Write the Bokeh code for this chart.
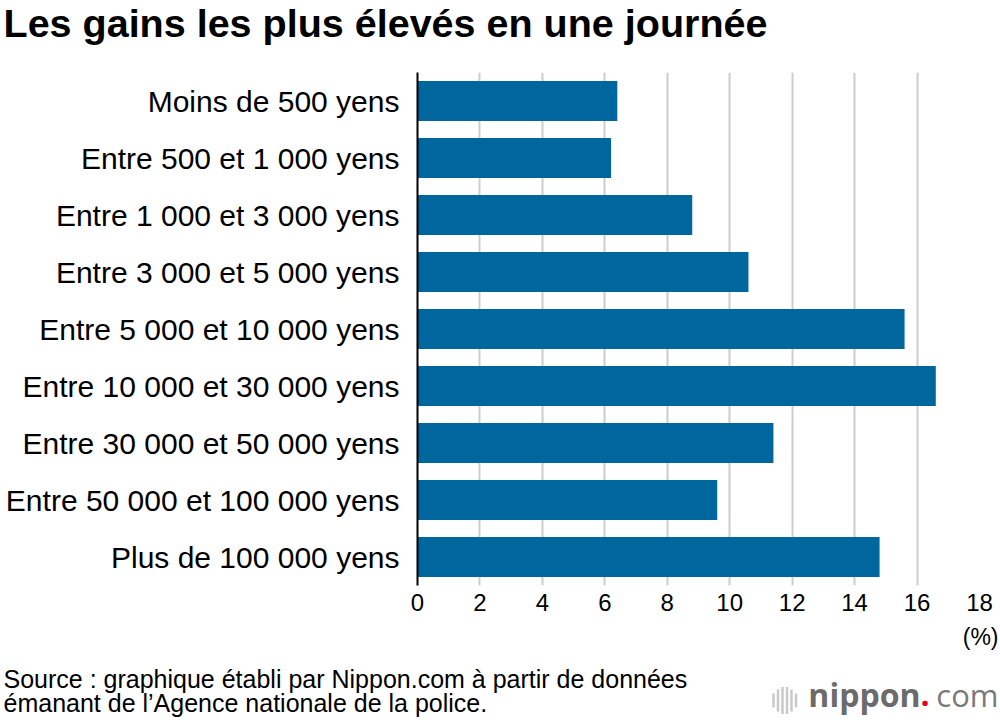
from bokeh.plotting import figure
from bokeh.models import FactorRange, Range1d, Label, FixedTicker
from bokeh.layouts import column
from bokeh.embed import file_html
from bokeh.resources import INLINE

# ---- data ----
categories = [
    "Moins de 500 yens",
    "Entre 500 et 1 000 yens",
    "Entre 1 000 et 3 000 yens",
    "Entre 3 000 et 5 000 yens",
    "Entre 5 000 et 10 000 yens",
    "Entre 10 000 et 30 000 yens",
    "Entre 30 000 et 50 000 yens",
    "Entre 50 000 et 100 000 yens",
    "Plus de 100 000 yens",
]
values = [6.4, 6.2, 8.8, 10.6, 15.6, 16.6, 11.4, 9.6, 14.8]
ticks = [0, 2, 4, 6, 8, 10, 12, 14, 16, 18]

title_text = "Les gains les plus élevés en une journée"
unit_text = "(%)"
source_lines = [
    "Source : graphique établi par Nippon.com à partir de données",
    "émanant de l’Agence nationale de la police.",
]

FONT = "Liberation Sans"
BAR = "#00669e"
W = 1000


def blank_fig(h, y0):
    """A figure whose frame fills the canvas; y runs downward in page pixels."""
    f = figure(width=W, height=h, x_range=Range1d(0, W), y_range=Range1d(y0 + h, y0),
               output_backend="svg", toolbar_location=None, title=None,
               x_axis_location=None, y_axis_location=None,
               min_border_left=0, min_border_right=0, min_border_top=0, min_border_bottom=0,
               frame_align=False)
    f.outline_line_color = None
    f.xgrid.visible = False
    f.ygrid.visible = False
    return f


def txt(fig, x, y, text, size, font=FONT, style="normal", color="#000000", align="left"):
    fig.add_layout(Label(x=x, y=y, text=text, text_font=font,
                         text_font_size=size, text_font_style=style,
                         text_color=color, text_align=align, text_baseline="middle"))


# ---- title strip (page y 0..64) ----
top = blank_fig(64, 0)
txt(top, 3, 22.5, title_text, "39.5px", style="bold")

# ---- main chart (page y 64..620) ----
p = figure(
    width=W, height=556,
    y_range=FactorRange(factors=categories[::-1]),
    x_range=Range1d(0, 18),
    output_backend="svg", toolbar_location=None, title=None,
    min_border_left=417, min_border_right=21,
    min_border_top=8, min_border_bottom=35,
    frame_align=False,
)
p.outline_line_color = None

p.hbar(y=categories, right=values, left=0, height=0.70,
       fill_color=BAR, line_color=None)

p.xaxis.ticker = FixedTicker(ticks=ticks)
p.xaxis.axis_line_color = None
p.xaxis.major_tick_line_color = None
p.xaxis.minor_tick_line_color = None
p.xaxis.major_tick_out = 0
p.xaxis.major_tick_in = 0
p.xaxis.major_label_standoff = 8
p.xaxis.major_label_text_font = FONT
p.xaxis.major_label_text_font_size = "24px"
p.xaxis.major_label_text_color = "#000000"

p.yaxis.axis_line_color = "#000000"
p.yaxis.axis_line_width = 2
p.yaxis.major_tick_line_color = None
p.yaxis.minor_tick_line_color = None
p.yaxis.major_tick_out = 0
p.yaxis.major_tick_in = 0
p.yaxis.major_label_standoff = 18
p.yaxis.major_label_text_font = FONT
p.yaxis.major_label_text_font_size = "30px"
p.yaxis.major_label_text_color = "#000000"

p.xgrid.grid_line_color = "#cccccc"
p.xgrid.grid_line_width = 2
p.ygrid.grid_line_color = None

# ---- footer (page y 620..724) ----
foot = blank_fig(104, 620)
txt(foot, 998, 636, unit_text, "23px", align="right")
for i, line in enumerate(source_lines):
    txt(foot, 3, 678 + 24.5 * i, line, "25px")

# logo: sound-wave icon + wordmark
icon_x = [773, 777.5, 782, 786.5, 791, 795.5]
icon_half = [7, 11, 13.5, 13.5, 11, 7]
foot.segment(x0=icon_x, x1=icon_x,
             y0=[700 - h for h in icon_half], y1=[700 + h for h in icon_half],
             line_color="#c9c9c9", line_width=2.5)
txt(foot, 920, 694, "nippon", "32px", font="Open Sans", style="bold",
    color="#6b6b6b", align="right")
txt(foot, 920, 694, ".", "32px", font="Open Sans", style="bold", color="#e60012")
txt(foot, 998, 694, "com", "31px", font="Open Sans", color="#7a7a7a", align="right")

layout = column(top, p, foot, spacing=0)
open("out.html", "w").write(file_html(layout, INLINE))
